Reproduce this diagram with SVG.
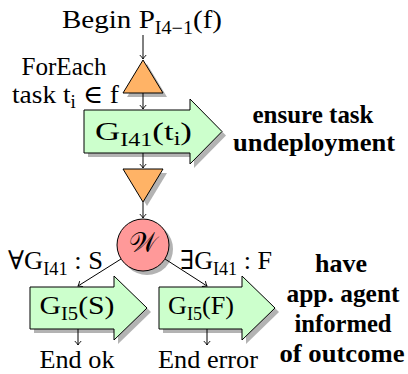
<svg xmlns="http://www.w3.org/2000/svg" width="408" height="374" viewBox="0 0 408 374">
<defs>
<marker id="ah" viewBox="-5 -4 6 8" markerWidth="6" markerHeight="8" refX="0" refY="0" orient="auto" markerUnits="userSpaceOnUse">
<path d="M-4,-3.2 Q-1.5,-0.8 0,0 Q-1.5,0.8 -4,3.2" fill="none" stroke="#000" stroke-width="0.9"/>
</marker>
</defs>
<style>
text{font-family:"Liberation Serif","DejaVu Serif",serif;font-size:26px;fill:#000}
.b{font-weight:bold;font-size:26px}
.m{text-anchor:middle}
.sub{font-size:18px}
.shadow{fill:#b3b3b3;stroke:none}
.tri{fill:#ffb366;stroke:#000;stroke-width:1}
.goal{fill:#ccffcc;stroke:#000;stroke-width:1}
.circ{fill:#ff9999;stroke:#000;stroke-width:1}
.conn line{stroke:#000;stroke-width:1;marker-end:url(#ah)}
</style>
<rect width="408" height="374" fill="#fff"/>

<g id="begin">
<text class="m" x="142" y="28" textLength="160" lengthAdjust="spacingAndGlyphs">Begin P<tspan class="sub" dy="6">I4−1</tspan><tspan dy="-6">(f)</tspan></text>
</g>

<g id="foreach">
<polygon class="shadow" points="147,64 127,97 167,97"/>
<polygon class="tri" points="143,60 123,93 163,93"/>
<text class="m" x="64" y="75" textLength="85" lengthAdjust="spacingAndGlyphs">ForEach</text>
<text x="12" y="103" textLength="107" lengthAdjust="spacingAndGlyphs">task t<tspan class="sub" dy="5">i</tspan><tspan dy="-5"> ∈ f</tspan></text>
</g>

<g id="g_i41">
<path class="shadow" d="M88,114 H194 V103 L226,135.5 L194,168 V157 H88 Z"/>
<path class="goal" d="M84,110 H190 V99 L222,131.5 L190,164 V153 H84 Z"/>
<text class="m" x="143.5" y="140" textLength="97" lengthAdjust="spacingAndGlyphs">G<tspan class="sub" dy="6">I41</tspan><tspan dy="-6">(t</tspan><tspan class="sub" dy="5">i</tspan><tspan dy="-5">)</tspan></text>
<text class="b m" x="313" y="123" textLength="121" lengthAdjust="spacingAndGlyphs">ensure task</text>
<text class="b m" x="314" y="151" textLength="162" lengthAdjust="spacingAndGlyphs">undeployment</text>
</g>

<g id="merge">
<polygon class="shadow" points="127,173 167,173 147,206"/>
<polygon class="tri" points="123,169 163,169 143,202"/>
</g>

<g id="w">
<circle class="shadow" cx="147" cy="249" r="26"/>
<circle class="circ" cx="143" cy="245" r="26"/>
<text class="m" x="143" y="252" style="font-size:27px">𝒲</text>
<text x="8" y="269" textLength="95" lengthAdjust="spacingAndGlyphs">∀G<tspan class="sub" dy="6">I41</tspan><tspan dy="-6"> : S</tspan></text>
<text x="180" y="269" textLength="92" lengthAdjust="spacingAndGlyphs">∃G<tspan class="sub" dy="6">I41</tspan><tspan dy="-6"> : F</tspan></text>
</g>

<g id="g_i5_s">
<path class="shadow" d="M34,291 H118 V280 L151,312 L118,344 V333 H34 Z"/>
<path class="goal" d="M30,287 H114 V276 L147,308 L114,340 V329 H30 Z"/>
<text class="m" x="77" y="314" textLength="75" lengthAdjust="spacingAndGlyphs">G<tspan class="sub" dy="6">I5</tspan><tspan dy="-6">(S)</tspan></text>
<text class="m" x="77" y="368" textLength="75" lengthAdjust="spacingAndGlyphs">End ok</text>
</g>

<g id="g_i5_f">
<path class="shadow" d="M163,291 H246 V280 L279,312 L246,344 V333 H163 Z"/>
<path class="goal" d="M159,287 H242 V276 L275,308 L242,340 V329 H159 Z"/>
<text class="m" x="201" y="314" textLength="66" lengthAdjust="spacingAndGlyphs">G<tspan class="sub" dy="6">I5</tspan><tspan dy="-6">(F)</tspan></text>
<text class="m" x="208" y="368" textLength="100" lengthAdjust="spacingAndGlyphs">End error</text>
</g>

<g id="outcome-label">
<text class="b m" x="341" y="272">have</text>
<text class="b m" x="343" y="302" textLength="113" lengthAdjust="spacingAndGlyphs">app. agent</text>
<text class="b m" x="343" y="332" textLength="97" lengthAdjust="spacingAndGlyphs">informed</text>
<text class="b m" x="342" y="362" textLength="125" lengthAdjust="spacingAndGlyphs">of outcome</text>
</g>

<g id="connectors" class="conn">
<line x1="143" y1="35" x2="143" y2="59"/>
<line x1="143" y1="93" x2="143" y2="109"/>
<line x1="143" y1="153" x2="143" y2="168"/>
<line x1="143" y1="202" x2="143" y2="218"/>
<line x1="121" y1="259" x2="78" y2="286"/>
<line x1="165" y1="259" x2="207" y2="286"/>
<line x1="78" y1="329" x2="78" y2="345"/>
<line x1="207" y1="329" x2="207" y2="345"/>
</g>
</svg>
